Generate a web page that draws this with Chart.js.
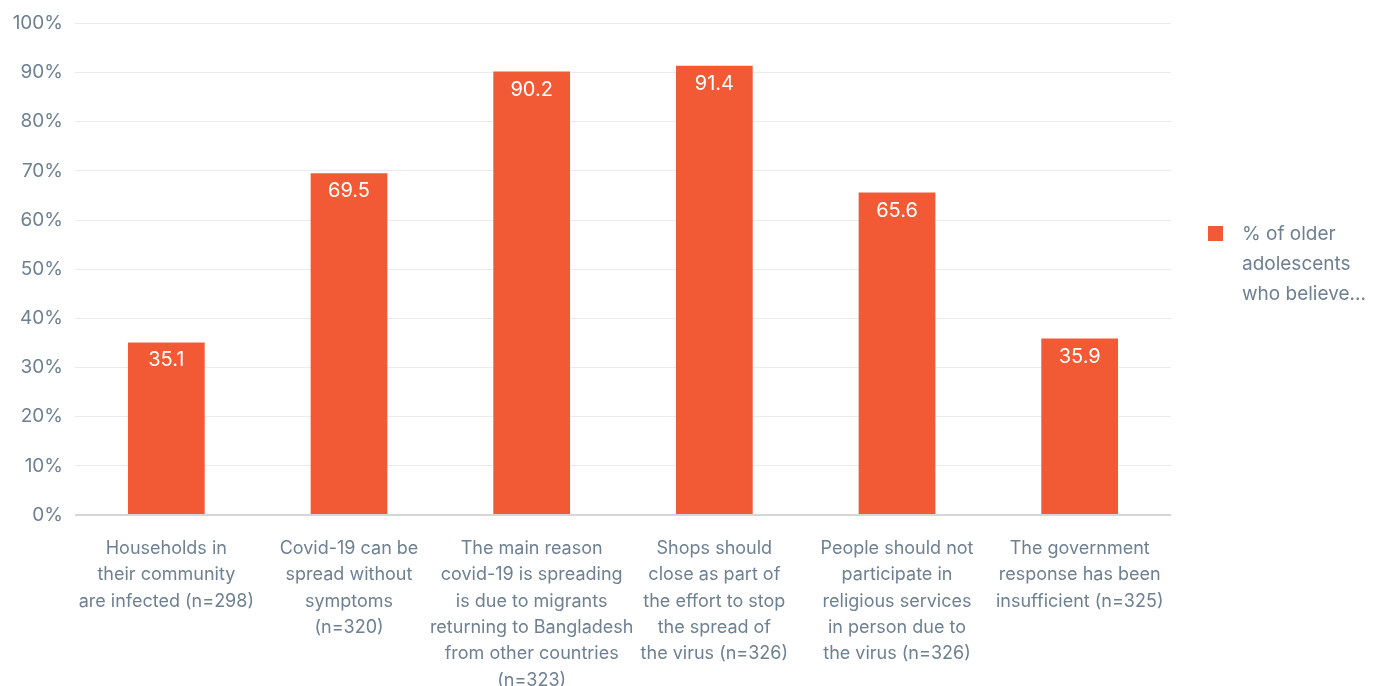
<!DOCTYPE html>
<html>
<head>
<meta charset="utf-8">
<script src="https://cdn.jsdelivr.net/npm/chart.js@4"></script>
<style>
  html, body { margin: 0; padding: 0; background: #fff; }
  #wrap { width: 1383px; height: 686px; position: relative; }
</style>
</head>
<body>
<div id="wrap"><canvas id="beliefChart"></canvas></div>
<script>
// categories (wrapped onto lines) and values
const categories = [
  ["Households in", "their community", "are infected (n=298)"],
  ["Covid-19 can be", "spread without", "symptoms", "(n=320)"],
  ["The main reason", "covid-19 is spreading", "is due to migrants", "returning to Bangladesh", "from other countries", "(n=323)"],
  ["Shops should", "close as part of", "the effort to stop", "the spread of", "the virus (n=326)"],
  ["People should not", "participate in", "religious services", "in person due to", "the virus (n=326)"],
  ["The government", "response has been", "insufficient (n=325)"]
];
const believeValues = [35.1, 69.5, 90.2, 91.4, 65.6, 35.9];
const seriesLabel = ["% of older", "adolescents", "who believe..."];

const ORANGE = "#F15A35";
const TEXT = "#6E8092";
const FONT = "Inter, 'Open Sans', sans-serif";

// white value labels inside the top of each bar
const valueLabels = {
  id: "valueLabels",
  afterDatasetsDraw(chart) {
    const ctx = chart.ctx;
    const meta = chart.getDatasetMeta(0);
    ctx.save();
    ctx.fillStyle = "#fff";
    ctx.font = "20px " + FONT;
    ctx.textAlign = "center";
    ctx.textBaseline = "middle";
    meta.data.forEach((bar, i) => {
      ctx.fillText(believeValues[i].toFixed(1), bar.x, bar.y + 18);
    });
    ctx.restore();
  }
};

// legend on the right with wrapped text
const sideLegend = {
  id: "sideLegend",
  afterDraw(chart) {
    const ctx = chart.ctx;
    ctx.save();
    ctx.fillStyle = ORANGE;
    ctx.fillRect(1208, 226, 15, 15);
    ctx.fillStyle = TEXT;
    ctx.font = "19px " + FONT;
    ctx.textAlign = "left";
    ctx.textBaseline = "middle";
    seriesLabel.forEach((line, i) => {
      ctx.fillText(line, 1242, 234 + i * 30);
    });
    ctx.restore();
  }
};

new Chart(document.getElementById("beliefChart"), {
  type: "bar",
  data: {
    labels: categories,
    datasets: [{
      label: seriesLabel.join(" "),
      data: believeValues,
      backgroundColor: ORANGE,
      barPercentage: 0.42,
      categoryPercentage: 1
    }]
  },
  options: {
    responsive: true,
    maintainAspectRatio: false,
    animation: false,
    layout: { padding: { top: 15, right: 212, bottom: 0, left: 0 } },
    plugins: {
      legend: { display: false },
      tooltip: { enabled: false }
    },
    scales: {
      x: {
        grid: { display: false },
        border: { display: false },
        ticks: {
          color: TEXT,
          font: { family: FONT, size: 18, lineHeight: 1.47 },
          maxRotation: 0,
          autoSkip: false,
          padding: 12
        },
        afterFit(scale) { scale.height = 171; }
      },
      y: {
        min: 0,
        max: 100,
        ticks: {
          stepSize: 10,
          color: TEXT,
          font: { family: FONT, size: 19 },
          padding: 12,
          callback: v => v + "%"
        },
        border: { display: false },
        grid: {
          drawTicks: false,
          color: c => c.tick && c.tick.value === 0 ? "#d6d6d6" : "#ebebeb",
          lineWidth: c => c.tick && c.tick.value === 0 ? 2 : 1
        },
        afterFit(scale) { scale.width = 75; }
      }
    }
  },
  plugins: [valueLabels, sideLegend]
});
</script>
</body>
</html>
